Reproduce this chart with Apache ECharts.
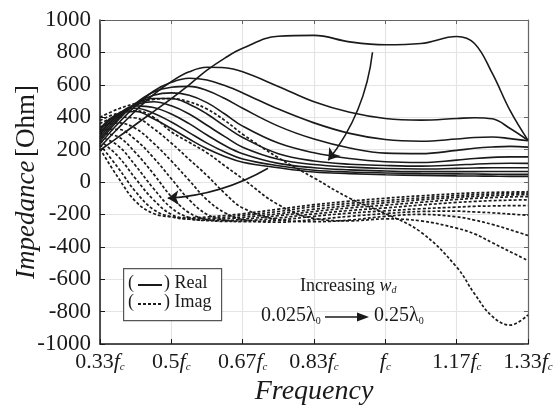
<!DOCTYPE html>
<html>
<head>
<meta charset="utf-8">
<script src="https://cdn.jsdelivr.net/npm/echarts@6/dist/echarts.min.js"></script>
<style>
  html, body { margin: 0; padding: 0; background: #fff; }
  #chart { width: 557px; height: 406px; }
</style>
</head>
<body>
<div id="chart"></div>
<script>
// x in units of fc/6  (2 -> 0.33fc ... 8 -> 1.33fc)
const xs = [2, 2.25, 2.5, 2.75, 3, 3.25, 3.5, 3.75, 4, 4.5, 5, 5.5, 6, 6.5, 7, 7.25, 7.5, 7.75, 8];
const tickNames = {2: '0.33', 3: '0.5', 4: '0.67', 5: '0.83', 6: '', 7: '1.17', 8: '1.33'};
const yTicks = [-1000, -800, -600, -400, -200, 0, 200, 400, 600, 800, 1000];

// real part, 0.025λ0 ... 0.25λ0
const real1 = [196, 275, 355, 435, 515, 600, 690, 765, 825, 900, 905, 865, 847, 855, 898, 855, 670, 440, 257];
const real2 = [215, 330, 440, 540, 620, 680, 708, 705, 680, 590, 495, 430, 392, 382, 392, 397, 390, 330, 257];
const real3 = [235, 360, 470, 560, 615, 640, 630, 595, 550, 450, 365, 300, 262, 252, 265, 275, 278, 268, 255];
const real4 = [250, 380, 485, 555, 585, 590, 565, 515, 455, 345, 265, 210, 178, 175, 195, 208, 216, 220, 215];
const real5 = [265, 390, 485, 535, 550, 535, 490, 420, 345, 240, 180, 145, 125, 120, 135, 145, 152, 155, 155];
const real6 = [280, 400, 480, 515, 515, 480, 420, 345, 275, 175, 130, 110, 102, 98, 105, 110, 114, 116, 115];
const real7 = [295, 410, 475, 495, 470, 420, 350, 280, 215, 140, 108, 92, 83, 80, 84, 86, 88, 88, 88];
const real8 = [305, 415, 470, 460, 420, 360, 290, 225, 175, 115, 88, 75, 68, 64, 64, 64, 65, 65, 65];
const real9 = [320, 420, 455, 425, 370, 305, 240, 185, 142, 100, 73, 62, 56, 52, 50, 49, 48, 47, 47];
const real10 = [330, 420, 435, 390, 330, 265, 205, 158, 122, 88, 62, 52, 45, 41, 38, 37, 36, 35, 35];

// imaginary part
const imag1 = [400, 450, 485, 510, 515, 495, 450, 380, 295, 150, 25, -100, -195, -310, -525, -690, -830, -883, -820];
const imag2 = [380, 425, 440, 400, 310, 245, 180, 100, 20, -140, -225, -240, -228, -240, -285, -320, -375, -430, -485];
const imag3 = [360, 400, 395, 330, 240, 140, 40, -70, -160, -232, -245, -235, -212, -200, -215, -235, -262, -295, -330];
const imag4 = [340, 365, 330, 240, 130, 10, -110, -190, -232, -248, -232, -212, -195, -182, -180, -185, -190, -198, -205];
const imag5 = [320, 325, 260, 150, 20, -110, -200, -235, -245, -235, -212, -192, -178, -165, -155, -150, -148, -146, -145];
const imag6 = [300, 280, 180, 50, -90, -190, -232, -243, -240, -222, -197, -176, -160, -142, -126, -120, -115, -112, -110];
const imag7 = [280, 225, 100, -40, -160, -220, -238, -238, -230, -208, -182, -160, -143, -125, -108, -101, -96, -92, -90];
const imag8 = [255, 160, 20, -110, -200, -230, -235, -228, -218, -196, -168, -146, -128, -110, -95, -89, -84, -80, -78];
const imag9 = [230, 90, -60, -170, -215, -228, -226, -218, -206, -182, -152, -132, -115, -98, -84, -78, -74, -70, -68];
const imag10 = [205, 30, -120, -195, -215, -220, -216, -207, -196, -168, -140, -118, -100, -85, -72, -67, -64, -62, -60];

const realList = [real1, real2, real3, real4, real5, real6, real7, real8, real9, real10];
const imagList = [imag1, imag2, imag3, imag4, imag5, imag6, imag7, imag8, imag9, imag10];

const chart = echarts.init(document.getElementById('chart'));
const serif = 'Liberation Serif';
const ink = '#1a1a1a';

const series = [];
realList.forEach(function (arr) {
    series.push({
        type: 'line', smooth: 0.4, symbol: 'none', silent: true,
        data: xs.map((x, i) => [x, arr[i]]),
        lineStyle: {color: ink, width: 1.6}
    });
});
imagList.forEach(function (arr) {
    series.push({
        type: 'line', smooth: 0.4, symbol: 'none', silent: true,
        data: xs.map((x, i) => [x, arr[i]]),
        lineStyle: {color: ink, width: 1.7, type: [3, 2]}
    });
});
// the two curved arrows
series.push({
    type: 'lines', coordinateSystem: 'cartesian2d', silent: true,
    symbol: ['none', 'arrow'], symbolSize: 11,
    lineStyle: {color: ink, width: 1.6, opacity: 1},
    data: [
        {coords: [[5.82, 801], [5.2, 134]], lineStyle: {curveness: 0.14}},
        {coords: [[4.355, 85], [2.95, -100]], lineStyle: {curveness: 0.12}}
    ]
});

const xLabelRich = {
    n: {fontFamily: serif, fontSize: 22, color: ink},
    f: {fontFamily: serif, fontSize: 22, fontStyle: 'italic', color: ink},
    c: {fontFamily: serif, fontSize: 11, fontStyle: 'italic', color: ink, verticalAlign: 'bottom', padding: [9, 0, 0, 0]}
};

let option = {
    animation: false,
    grid: {left: 100, right: 29, top: 20, bottom: 62, containLabel: false, outerBoundsMode: 'none'},
    xAxis: [
        {
            type: 'value', min: 2, max: 8, interval: 1,
            name: 'Frequency', nameLocation: 'middle', nameGap: 34, nameMoveOverlap: false,
            nameTextStyle: {fontFamily: serif, fontSize: 28, fontStyle: 'italic', color: ink},
            axisLine: {show: true, onZero: false, lineStyle: {color: ink, width: 1.5}},
            axisTick: {show: true, inside: true, length: 5, lineStyle: {color: ink}},
            splitLine: {show: true, lineStyle: {color: '#e4e4e4', width: 1.2}},
            axisLabel: {
                margin: 7,
                formatter: function (v) { return '{n|' + tickNames[v] + '}{f|f}{c|c}'; },
                rich: xLabelRich
            }
        },
        {
            type: 'value', min: 2, max: 8, interval: 1, position: 'top',
            axisLine: {show: true, onZero: false, lineStyle: {color: '#666', width: 1.2}},
            axisTick: {show: true, inside: true, length: 4, lineStyle: {color: '#666'}},
            axisLabel: {show: false}, splitLine: {show: false}
        }
    ],
    yAxis: [
        {
            type: 'value', min: -1000, max: 1000, interval: 200,
            name: '{i|Impedance} {n|[Ohm]}', nameLocation: 'middle', nameGap: 60, nameRotate: 90,
            nameMoveOverlap: false,
            nameTextStyle: {
                rich: {
                    i: {fontFamily: serif, fontSize: 27, fontStyle: 'italic', color: ink},
                    n: {fontFamily: serif, fontSize: 27, color: ink}
                }
            },
            axisLine: {show: true, onZero: false, lineStyle: {color: ink, width: 1.5}},
            axisTick: {show: true, inside: true, length: 5, lineStyle: {color: ink}},
            splitLine: {show: true, lineStyle: {color: '#e4e4e4', width: 1.2}},
            axisLabel: {margin: 9, fontFamily: serif, fontSize: 23, color: ink,
                formatter: function (v) { return yTicks.indexOf(v) >= 0 ? String(v) : ''; }}
        },
        {
            type: 'value', min: -1000, max: 1000, interval: 200, position: 'right',
            axisLine: {show: true, onZero: false, lineStyle: {color: '#666', width: 1.2}},
            axisTick: {show: true, inside: true, length: 4, lineStyle: {color: '#666'}},
            axisLabel: {show: false}, splitLine: {show: false}
        }
    ],
    graphic: [
        // legend box
        {type: 'rect', left: 123, top: 268, shape: {width: 98, height: 52},
            style: {fill: '#fff', stroke: '#555', lineWidth: 1.2}, z: 100},
        {type: 'text', left: 128, top: 274, z: 101,
            style: {text: '(', font: '18px "Liberation Serif"', fill: ink}},
        {type: 'line', z: 101, shape: {x1: 138, y1: 285, x2: 162, y2: 285},
            style: {stroke: ink, lineWidth: 2}},
        {type: 'text', left: 164, top: 274, z: 101,
            style: {text: ') Real', font: '18px "Liberation Serif"', fill: ink}},
        {type: 'text', left: 128, top: 293, z: 101,
            style: {text: '(', font: '18px "Liberation Serif"', fill: ink}},
        {type: 'line', z: 101, shape: {x1: 138, y1: 304, x2: 162, y2: 304},
            style: {stroke: ink, lineWidth: 1.8, lineDash: [3, 2]}},
        {type: 'text', left: 164, top: 293, z: 101,
            style: {text: ') Imag', font: '18px "Liberation Serif"', fill: ink}},
        // increasing w_d note
        {type: 'text', left: 300, top: 277, z: 101,
            style: {text: 'Increasing {w|w}{d|d}', font: '18px "Liberation Serif"', fill: ink,
                rich: {
                    w: {fontFamily: serif, fontSize: 18, fontStyle: 'italic', fill: ink},
                    d: {fontFamily: serif, fontSize: 10, fontStyle: 'italic', fill: ink, verticalAlign: 'bottom', padding: [7, 0, 0, 0]}
                }}},
        {type: 'text', left: 261, top: 306, z: 101,
            style: {text: '0.025λ{s|0}', font: '20px "Liberation Serif"', fill: ink,
                rich: {s: {fontFamily: serif, fontSize: 10, fill: ink, verticalAlign: 'bottom', padding: [8, 0, 0, 0]}}}},
        {type: 'line', z: 101, shape: {x1: 325, y1: 317, x2: 360, y2: 317},
            style: {stroke: ink, lineWidth: 1.6}},
        {type: 'polygon', z: 101, shape: {points: [[357, 312.5], [369, 317], [357, 321.5]]},
            style: {fill: ink}},
        {type: 'text', left: 374, top: 306, z: 101,
            style: {text: '0.25λ{s|0}', font: '20px "Liberation Serif"', fill: ink,
                rich: {s: {fontFamily: serif, fontSize: 10, fill: ink, verticalAlign: 'bottom', padding: [8, 0, 0, 0]}}}}
    ],
    series: series
};

chart.setOption(option);
</script>
</body>
</html>
